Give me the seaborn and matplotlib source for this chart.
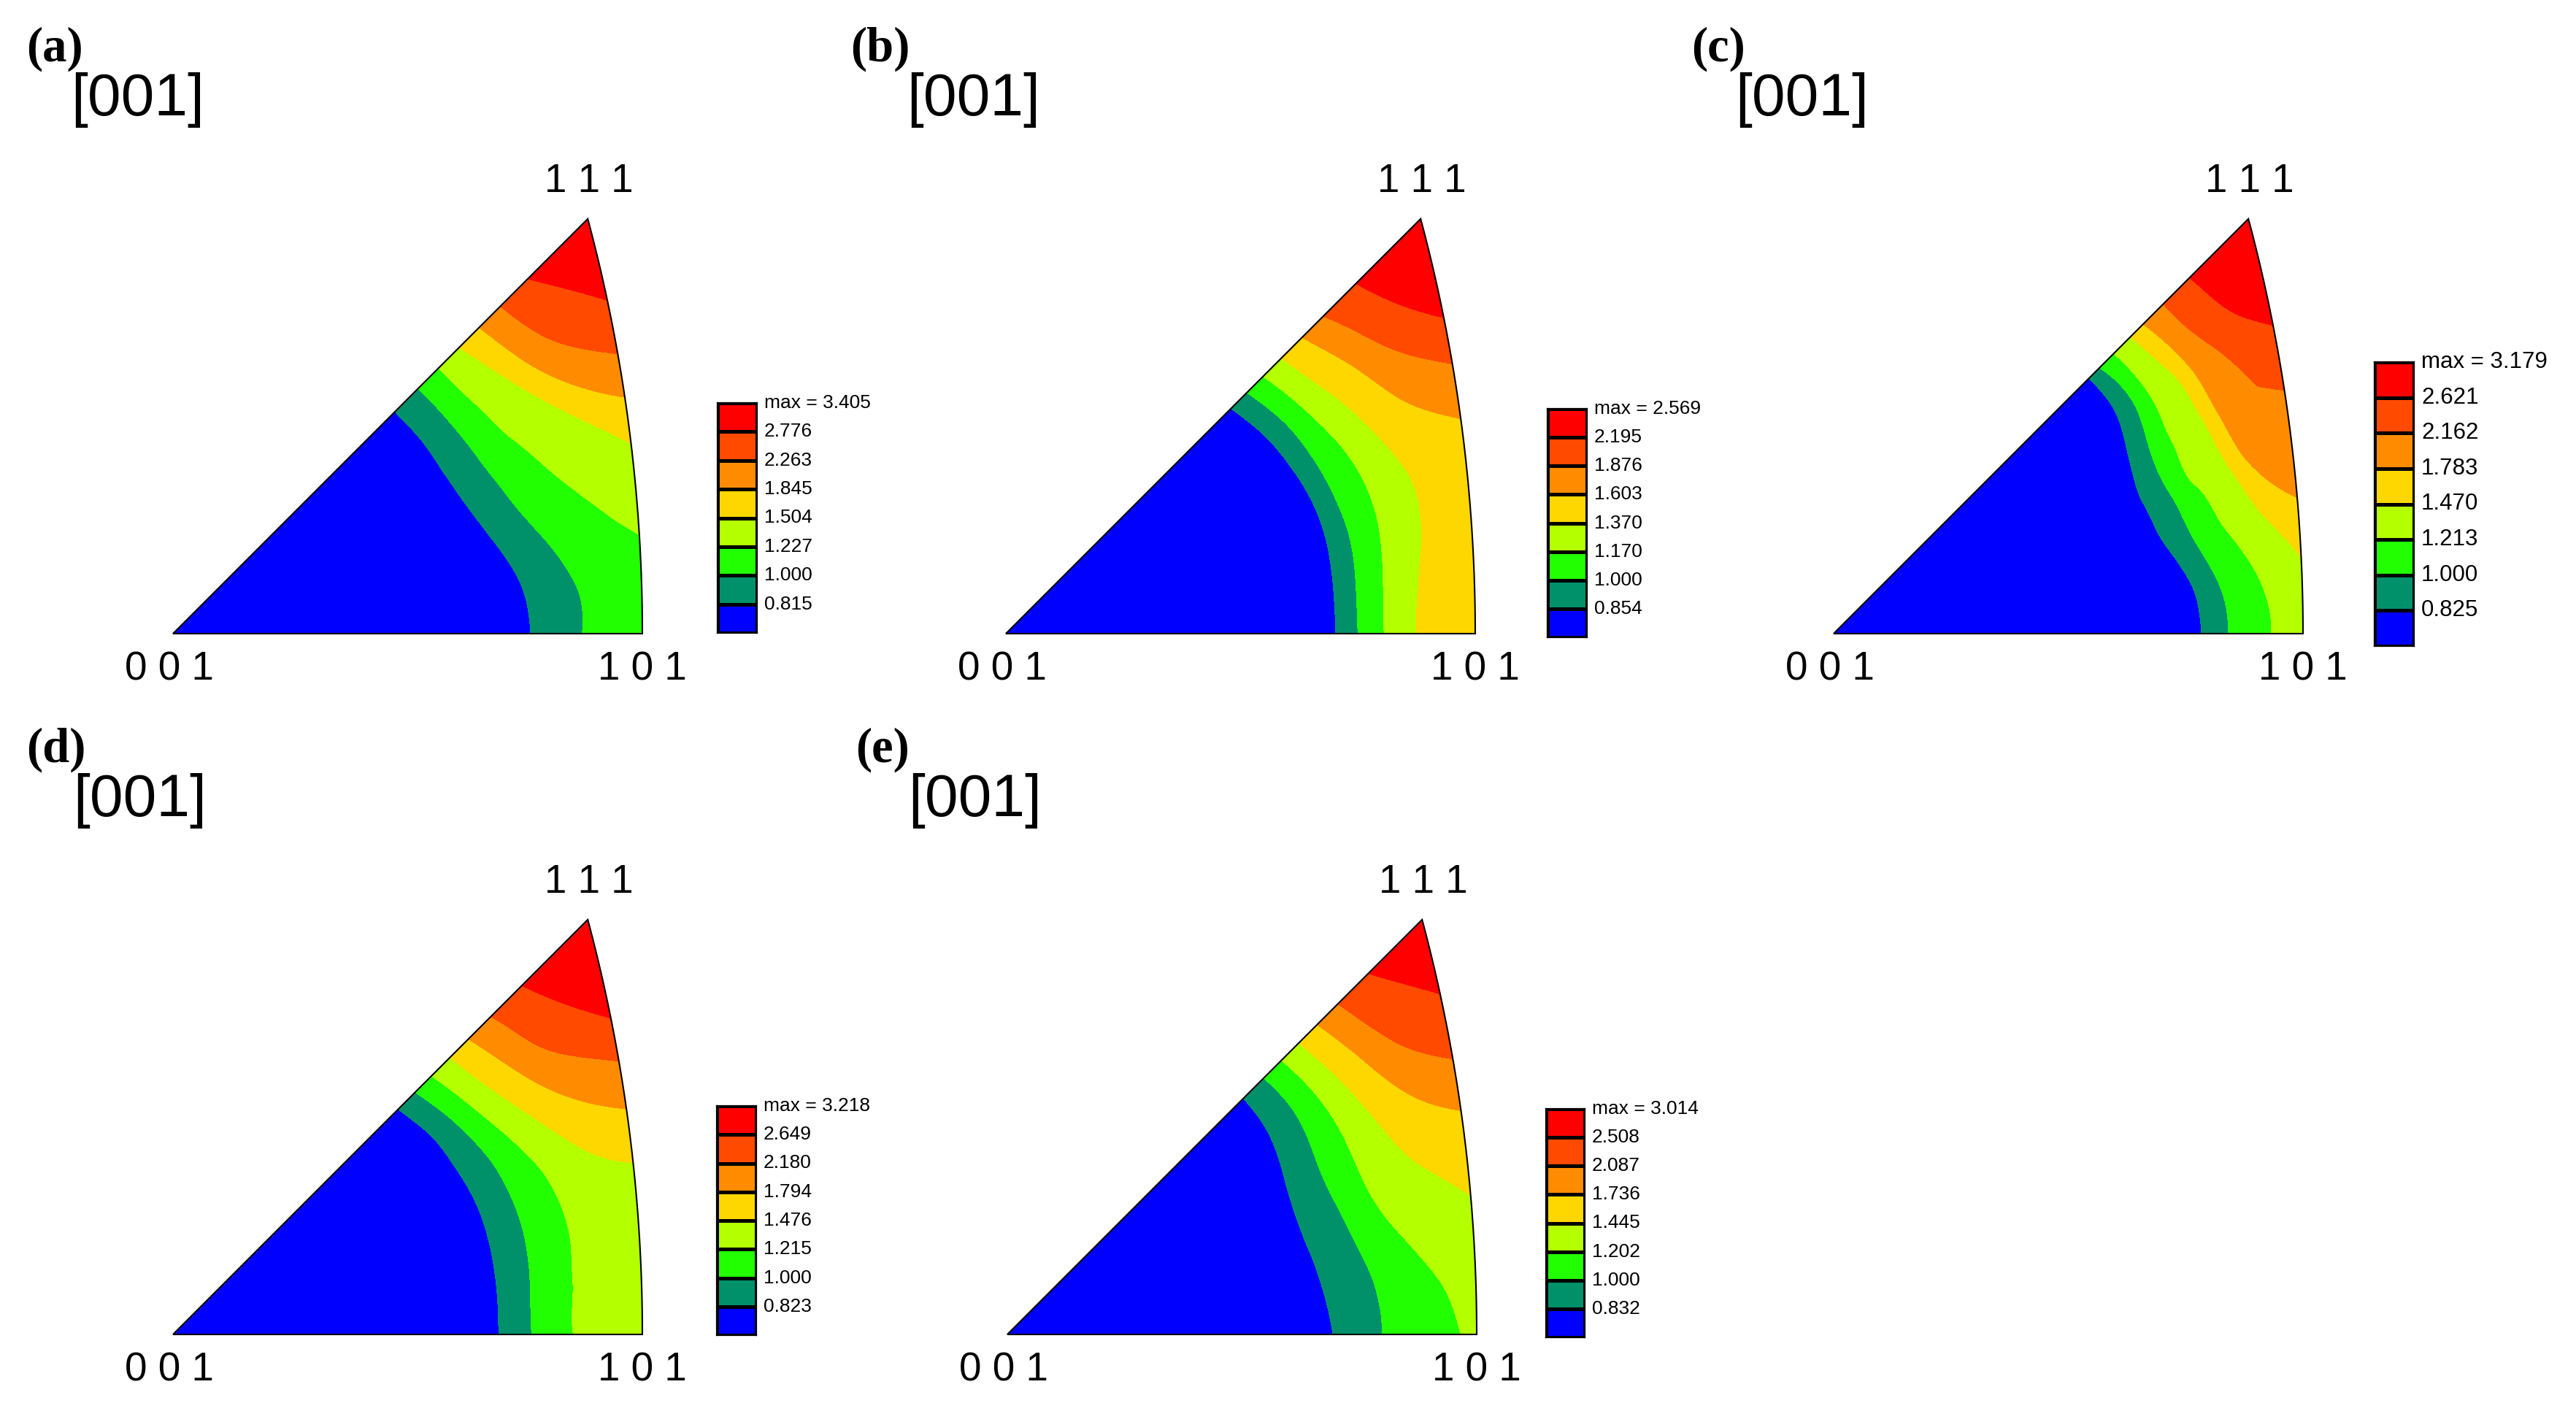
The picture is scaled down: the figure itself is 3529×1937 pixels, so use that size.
import numpy as np
import matplotlib
matplotlib.use('Agg')
import matplotlib.pyplot as plt
import matplotlib.tri as mtri
import seaborn as sns
from matplotlib.path import Path
from matplotlib.patches import PathPatch
from matplotlib.colors import ListedColormap

sns.set_style('white')
plt.rcParams['font.family'] = ['Liberation Sans', 'DejaVu Sans']
plt.rcParams['text.color'] = 'black'

# ---------------- data ----------------
panel_letters = ['(a)', '(b)', '(c)', '(d)', '(e)']
corner_labels = ['0 0 1', '1 0 1', '1 1 1']
direction_label = '[001]'

band_colors = ['#0000FF', '#00916B', '#22FF00', '#B4FF00',
               '#FFD700', '#FF8C00', '#FF4A00', '#FF0000']

# rays from the 001 corner (degrees from the 001-101 edge)
ray_angles_deg = [0, 7.5, 15, 22.5, 30, 37.5, 45]

# contour levels (legend values) and maxima
levels_a = [0.815, 1.000, 1.227, 1.504, 1.845, 2.263, 2.776]
max_a = 3.405
levels_b = [0.854, 1.000, 1.170, 1.370, 1.603, 1.876, 2.195]
max_b = 2.569
levels_c = [0.825, 1.000, 1.213, 1.470, 1.783, 2.162, 2.621]
max_c = 3.179
levels_d = [0.823, 1.000, 1.215, 1.476, 1.794, 2.180, 2.649]
max_d = 3.218
levels_e = [0.832, 1.000, 1.202, 1.445, 1.736, 2.087, 2.508]
max_e = 3.014

# relative radial position (1 = triangle edge) where each level is crossed on each ray
cross_a = [
    [0.762, 0.746, 0.699, 0.649, 0.609, 0.575, 0.535],
    [0.872, 0.856, 0.792, 0.729, 0.680, 0.636, 0.591],
    [1.15, 1.09, 0.941, 0.835, 0.755, 0.693, 0.640],
    [1.30, 1.20, 1.10, 1.00, 0.866, 0.767, 0.690],
    [1.50, 1.45, 1.35, 1.20, 0.938, 0.814, 0.738],
    [1.70, 1.60, 1.50, 1.35, 1.065, 0.878, 0.789],
    [1.90, 1.75, 1.65, 1.50, 1.20, 1.00, 0.855],
]
cross_b = [
    [0.703, 0.700, 0.693, 0.673, 0.638, 0.595, 0.543],
    [0.750, 0.748, 0.742, 0.718, 0.683, 0.638, 0.581],
    [0.806, 0.806, 0.805, 0.785, 0.740, 0.681, 0.620],
    [0.876, 0.882, 0.894, 0.871, 0.806, 0.734, 0.664],
    [1.35, 1.30, 1.20, 1.075, 0.894, 0.801, 0.714],
    [1.50, 1.45, 1.35, 1.20, 1.03, 0.867, 0.765],
    [1.65, 1.60, 1.50, 1.35, 1.15, 0.963, 0.844],
]
cross_c = [
    [0.784, 0.766, 0.714, 0.678, 0.661, 0.653, 0.615],
    [0.840, 0.822, 0.773, 0.735, 0.706, 0.691, 0.641],
    [0.933, 0.908, 0.843, 0.787, 0.752, 0.724, 0.675],
    [1.08, 1.015, 0.930, 0.866, 0.824, 0.780, 0.716],
    [1.18, 1.12, 1.035, 0.905, 0.856, 0.812, 0.746],
    [1.33, 1.28, 1.20, 1.12, 0.953, 0.867, 0.795],
    [1.45, 1.40, 1.32, 1.25, 1.13, 0.948, 0.858],
]
cross_d = [
    [0.694, 0.692, 0.684, 0.666, 0.634, 0.595, 0.543],
    [0.764, 0.763, 0.758, 0.736, 0.697, 0.643, 0.584],
    [0.853, 0.854, 0.851, 0.818, 0.754, 0.686, 0.623],
    [1.35, 1.30, 1.20, 0.935, 0.820, 0.735, 0.668],
    [1.45, 1.40, 1.30, 1.14, 0.905, 0.791, 0.712],
    [1.55, 1.50, 1.40, 1.25, 1.04, 0.857, 0.766],
    [1.65, 1.60, 1.50, 1.35, 1.15, 0.965, 0.841],
]
cross_e = [
    [0.694, 0.676, 0.652, 0.629, 0.616, 0.602, 0.569],
    [0.798, 0.785, 0.748, 0.712, 0.686, 0.663, 0.618],
    [0.966, 0.919, 0.838, 0.783, 0.753, 0.714, 0.661],
    [1.15, 1.10, 1.025, 0.898, 0.824, 0.765, 0.703],
    [1.35, 1.30, 1.22, 1.12, 0.913, 0.821, 0.747],
    [1.47, 1.42, 1.35, 1.25, 1.05, 0.884, 0.797],
    [1.60, 1.55, 1.50, 1.40, 1.20, 1.015, 0.870],
]

# ---------------- layout (pixels) ----------------
W, H = 3529, 1937
fig = plt.figure(figsize=(W / 100, H / 100), dpi=100)
fig.patch.set_facecolor('white')

S = 643 / (np.sqrt(2) - 1)   # pixels per stereographic unit

panels = [
    dict(letter=panel_letters[0], levels=levels_a, vmax=max_a, cross=cross_a,
         origin=(237, 868), letter_xy=(36, 67), dir_xy=(97, 137),
         box=(983, 552, 54, 315), lfs=19),
    dict(letter=panel_letters[1], levels=levels_b, vmax=max_b, cross=cross_b,
         origin=(1378, 868), letter_xy=(1165, 67), dir_xy=(1242, 137),
         box=(2120, 560, 54, 313), lfs=19),
    dict(letter=panel_letters[2], levels=levels_c, vmax=max_c, cross=cross_c,
         origin=(2512, 868), letter_xy=(2317, 67), dir_xy=(2377, 137),
         box=(3253, 496, 54, 389), lfs=22.5),
    dict(letter=panel_letters[3], levels=levels_d, vmax=max_d, cross=cross_d,
         origin=(237, 1828), letter_xy=(36, 1027), dir_xy=(100, 1097),
         box=(982, 1515, 54, 314), lfs=19),
    dict(letter=panel_letters[4], levels=levels_e, vmax=max_e, cross=cross_e,
         origin=(1380, 1828), letter_xy=(1172, 1027), dir_xy=(1244, 1097),
         box=(2118, 1519, 53, 313), lfs=19),
]

theta = np.deg2rad(ray_angles_deg)
nr = len(theta)
R_edge = -np.cos(theta) + np.sqrt(np.cos(theta) ** 2 + 1)

r101 = np.sqrt(2) - 1
p111 = (np.sqrt(3) - 1) / 2
phi = np.linspace(0, np.arctan2(p111, 1 + p111), 60)
arc = np.column_stack([-1 + np.sqrt(2) * np.cos(phi), np.sqrt(2) * np.sin(phi)])
tri_verts = np.vstack([[[0, 0]], arc, [[0, 0]]])
tri_codes = [Path.MOVETO] + [Path.LINETO] * (len(tri_verts) - 2) + [Path.CLOSEPOLY]
tri_path = Path(tri_verts, tri_codes)

# triangle connectivity for: origin + rows x rays
nrows = 8  # 7 crossing rows + 1 outer row
triangles = []
def idx(k, j):
    return 1 + k * nr + j
for j in range(nr - 1):
    triangles.append([0, idx(0, j), idx(0, j + 1)])
for k in range(nrows - 1):
    for j in range(nr - 1):
        triangles.append([idx(k, j), idx(k, j + 1), idx(k + 1, j + 1)])
        triangles.append([idx(k, j), idx(k + 1, j + 1), idx(k + 1, j)])
triangles = np.array(triangles)


def ftxt(x, y, s, **kw):
    fig.text(x / W, 1 - y / H, s, **kw)


for p in panels:
    ox, oy = p['origin']
    xl = (-0.05, 0.47)
    yl = (-0.03, 0.40)
    ax = fig.add_axes([(ox + xl[0] * S) / W, (H - oy + yl[0] * S) / H,
                       (xl[1] - xl[0]) * S / W, (yl[1] - yl[0]) * S / H])
    ax.set_xlim(xl)
    ax.set_ylim(yl)
    ax.axis('off')

    T = np.vstack([np.array(p['cross']), np.full(nr, 2.2)])
    X = np.concatenate([[0.0], (T * R_edge * np.cos(theta)).ravel()])
    Y = np.concatenate([[0.0], (T * R_edge * np.sin(theta)).ravel()])
    zrow = np.concatenate([p['levels'], [p['vmax']]])
    Z = np.concatenate([[0.0], (zrow[:, None] * np.ones((1, nr))).ravel()])
    tri = mtri.Triangulation(X, Y, triangles)
    interp = mtri.CubicTriInterpolator(tri, Z, kind='min_E')
    tri_f, z_f = mtri.UniformTriRefiner(tri).refine_field(Z, triinterpolator=interp, subdiv=4)
    lv = [-10.0] + list(p['levels']) + [p['vmax'] + 10.0]
    cs = ax.tricontourf(tri_f, z_f, levels=lv, colors=band_colors, antialiased=False)
    clip = PathPatch(tri_path, transform=ax.transData, facecolor='none', edgecolor='none')
    cs.set_clip_path(clip)
    ax.add_patch(PathPatch(tri_path, facecolor='none', edgecolor='black', lw=1.5, zorder=5))

    # text
    ftxt(p['letter_xy'][0], p['letter_xy'][1], p['letter'], ha='left', va='center',
         fontsize=48, fontweight='bold', family=['Liberation Serif', 'DejaVu Serif'])
    ftxt(p['dir_xy'][0], p['dir_xy'][1], direction_label, ha='left', va='center', fontsize=59)
    ftxt(ox - 5, oy + 50, corner_labels[0], ha='center', va='center', fontsize=39.5)
    ftxt(ox + 643, oy + 50, corner_labels[1], ha='center', va='center', fontsize=39.5)
    ftxt(ox + 570, oy - 567 - 52, corner_labels[2], ha='center', va='center', fontsize=39.5)

    # legend box drawn with a seaborn heatmap
    bx, by, bw, bh = p['box']
    lax = fig.add_axes([bx / W, 1 - (by + bh) / H, bw / W, bh / H])
    n = len(band_colors)
    sns.heatmap(np.arange(n)[::-1].reshape(-1, 1), ax=lax,
                cmap=ListedColormap(band_colors), vmin=-0.5, vmax=n - 0.5,
                cbar=False, linewidths=2.2, linecolor='black',
                xticklabels=False, yticklabels=False)
    for s in lax.spines.values():
        s.set_visible(True)
        s.set_linewidth(1.6)
        s.set_color('black')
    labels = ['max = %.3f' % p['vmax']] + ['%.3f' % v for v in p['levels'][::-1]]
    cell = bh / n
    for i, lab in enumerate(labels):
        ftxt(bx + bw + 10, by + i * cell, lab, ha='left', va='center', fontsize=p['lfs'])

fig.savefig('out.png', dpi=100, facecolor='white')
